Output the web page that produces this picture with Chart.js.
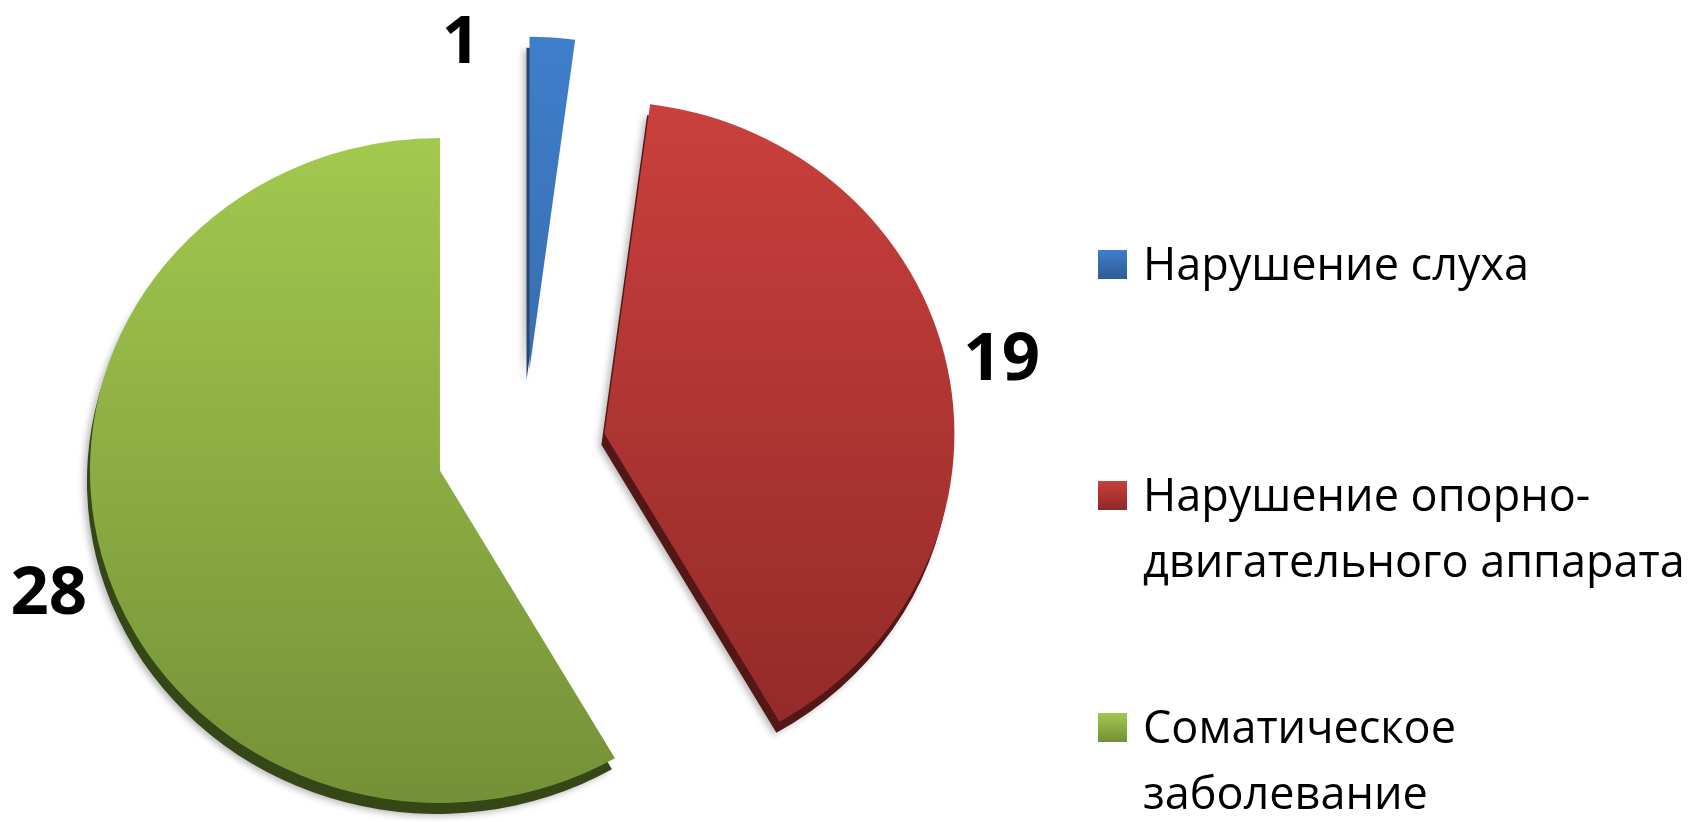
<!DOCTYPE html>
<html><head><meta charset="utf-8">
<script src="https://cdn.jsdelivr.net/npm/chart.js@4.4.1/dist/chart.umd.min.js"></script>
<style>
html,body{margin:0;padding:0;background:#fff;width:1692px;height:822px;overflow:hidden;font-family:"Open Sans",sans-serif;}
#wrap{position:absolute;left:0;top:0;width:1692px;height:822px;}
#legend{position:absolute;left:1098px;top:0;width:594px;}
.sw{position:absolute;left:0;width:29px;height:29px;}
.tx{position:absolute;left:45px;font-size:45px;line-height:66px;color:#000;white-space:nowrap;}
</style></head>
<body>
<div id="wrap"><canvas id="c" width="1692" height="822"></canvas></div>
<div id="legend"></div>
<script>
const categories = ["Нарушение слуха", "Нарушение опорно-двигательного аппарата", "Соматическое заболевание"];
const legendLines = [["Нарушение слуха"], ["Нарушение опорно-", "двигательного аппарата"], ["Соматическое", "заболевание"]];
const values = [1, 19, 28];
const topColors = ["#3F7ECB", "#C9403C", "#A2C84E"];
const bottomColors = ["#2F5C93", "#8E2827", "#738F37"];
const sideColors = ["#26466f", "#531715", "#354717"];

function grad(ctx, area, i) {
  const g = ctx.createLinearGradient(0, area.top + 30, 0, area.bottom);
  g.addColorStop(0, topColors[i]);
  g.addColorStop(1, bottomColors[i]);
  return g;
}

function arcGeom(chart, arc, i, opts) {
  const area = chart.chartArea;
  const cx = (area.left + area.right) / 2;
  const cy = (area.top + area.bottom) / 2;
  const p = arc.getProps(['x','y','startAngle','endAngle','outerRadius']);
  const mid = (p.startAngle + p.endAngle) / 2;
  const e = opts.explode[i];
  return {cx, cy, p, mid, ex: Math.cos(mid) * e, ey: Math.sin(mid) * e * opts.tilt};
}

const explodePlugin = {
  id: 'explode3d',
  beforeDatasetsDraw(chart, args, opts) {
    const ctx = chart.ctx;
    const meta = chart.getDatasetMeta(0);
    // 3D side / depth
    meta.data.forEach((arc, i) => {
      const g = arcGeom(chart, arc, i, opts);
      ctx.save();
      ctx.shadowColor = 'rgba(0,0,0,0.28)';
      ctx.shadowBlur = 7;
      ctx.shadowOffsetX = -3;
      ctx.shadowOffsetY = 2;
      ctx.translate(g.ex + opts.depthX, g.ey + opts.depth);
      ctx.translate(g.cx, g.cy); ctx.scale(1, opts.tilt); ctx.translate(-g.cx, -g.cy);
      ctx.fillStyle = sideColors[i];
      ctx.beginPath();
      ctx.moveTo(g.p.x, g.p.y);
      ctx.arc(g.p.x, g.p.y, g.p.outerRadius, g.p.startAngle, g.p.endAngle);
      ctx.closePath();
      ctx.fill();
      ctx.restore();
    });
    // top faces drawn by the library's arc elements
    meta.data.forEach((arc, i) => {
      const g = arcGeom(chart, arc, i, opts);
      ctx.save();
      ctx.translate(g.ex, g.ey);
      ctx.translate(g.cx, g.cy); ctx.scale(1, opts.tilt); ctx.translate(-g.cx, -g.cy);
      arc.draw(ctx, chart.chartArea);
      ctx.restore();
    });
    // value labels
    const ds = chart.data.datasets[0];
    ctx.save();
    ctx.font = 'bold 67px "Open Sans", sans-serif';
    ctx.fillStyle = '#000';
    ctx.textAlign = 'center';
    ctx.textBaseline = 'middle';
    meta.data.forEach((arc, i) => {
      const g = arcGeom(chart, arc, i, opts);
      const a = g.mid + opts.labelShift[i] * Math.PI / 180;
      const d = g.p.outerRadius + opts.labelGap[i];
      const x = g.cx + g.ex + Math.cos(a) * d;
      const y = g.cy + g.ey + Math.sin(a) * d * opts.tilt;
      ctx.fillText(String(ds.data[i]), x, y + 2);
    });
    ctx.restore();
    return false;
  }
};

new Chart(document.getElementById('c'), {
  type: 'pie',
  data: {
    labels: categories,
    datasets: [{
      data: values,
      backgroundColor: (c) => {
        const area = c.chart.chartArea;
        if (!area) return topColors[c.dataIndex];
        return grad(c.chart.ctx, area, c.dataIndex);
      },
      borderWidth: 0,
      radius: 350
    }]
  },
  options: {
    responsive: false,
    animation: false,
    events: [],
    layout: { padding: { left: 0, right: 644, top: 76, bottom: 0 } },
    plugins: {
      legend: { display: false },
      tooltip: { enabled: false },
      explode3d: {
        explode: [84, 82, 87],
        tilt: 0.95,
        depth: 11,
        depthX: -3,
        labelShift: [-15, 0, -3.3],
        labelGap: [1, 55, 62]
      }
    }
  },
  plugins: [explodePlugin]
});

// HTML legend
const firstBaselines = [280, 511, 743];
const lg = document.getElementById('legend');
legendLines.forEach((lines, i) => {
  const sw = document.createElement('div');
  sw.className = 'sw';
  sw.style.top = (firstBaselines[i] - 30) + 'px';
  sw.style.background = 'linear-gradient(' + topColors[i] + ',' + bottomColors[i] + ')';
  lg.appendChild(sw);
  lines.forEach((t, j) => {
    const d = document.createElement('div');
    d.className = 'tx';
    d.textContent = t;
    d.style.top = (firstBaselines[i] - 50 + j * 66) + 'px';
    lg.appendChild(d);
  });
});
</script>
</body></html>
